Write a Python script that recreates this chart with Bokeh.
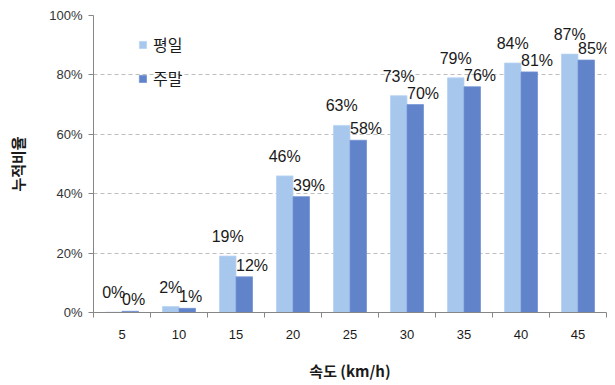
import numpy as np
from bokeh.plotting import figure
from bokeh.models import (ColumnDataSource, FixedTicker, PrintfTickFormatter, Range1d,
                          Legend, LegendItem)
from bokeh.core.properties import value
from bokeh.transform import dodge
from bokeh.embed import file_html
from bokeh.resources import INLINE

speeds = ["5", "10", "15", "20", "25", "30", "35", "40", "45"]
weekday = [0.1, 2.0, 19.0, 46.0, 63.0, 73.0, 79.0, 84.0, 87.0]
weekend = [0.4, 1.4, 12.0, 39.0, 58.0, 70.0, 76.0, 81.0, 85.0]
y_ticks = [0, 20, 40, 60, 80, 100]
series_names = ["평일", "주말"]
x_title = "속도 (km/h)"
y_title = "누적비율"

LIGHT = "#A7C7EC"
DARK = "#6083C9"
NUM_FONT = "Liberation Sans"
KR_FONT = "Noto Sans CJK KR"

n = len(speeds)
centers = np.arange(n) + 0.5
bw = 0.29

src = ColumnDataSource(dict(
    x=centers,
    wd=weekday,
    we=weekend,
    wd_lbl=[f"{round(v)}%" for v in weekday],
    we_lbl=[f"{round(v)}%" for v in weekend],
))

p = figure(width=615, height=385, output_backend="svg", toolbar_location=None,
           x_range=Range1d(0, n), y_range=Range1d(0, 100),
           min_border_left=93, min_border_right=9, min_border_top=15, min_border_bottom=73)
p.outline_line_color = None
p.background_fill_color = "white"
p.border_fill_color = "white"

r1 = p.vbar(x=dodge("x", -bw / 2), top="wd", width=bw, bottom=0, source=src,
            fill_color=LIGHT, line_color="#B9D4F2", line_width=0.8)
r2 = p.vbar(x=dodge("x", bw / 2), top="we", width=bw, bottom=0, source=src,
            fill_color=DARK, line_color="#7393D3", line_width=0.8)

# data labels
p.text(x=dodge("x", -bw / 2), y="wd", text="wd_lbl", source=src, text_align="center",
       text_baseline="bottom", y_offset=-11, text_font=value(NUM_FONT),
       text_font_size="16px", text_color="#1a1a1a")
p.text(x="x", y="we", text="we_lbl", source=src, text_align="left",
       text_baseline="bottom", y_offset=-3, text_font=value(NUM_FONT),
       text_font_size="16px", text_color="#1a1a1a")

# x axis
p.xaxis.ticker = FixedTicker(ticks=list(centers), minor_ticks=list(range(n + 1)))
p.xaxis.major_label_overrides = {float(c): s for c, s in zip(centers, speeds)}
p.xaxis.major_tick_line_color = None
p.xaxis.minor_tick_line_color = "#868686"
p.xaxis.minor_tick_out = 5
p.xaxis.minor_tick_in = 0
p.xaxis.axis_line_color = "#868686"
p.xaxis.major_label_text_font = NUM_FONT
p.xaxis.major_label_text_font_size = "13px"
p.xaxis.major_label_text_color = "#1a1a1a"
p.xaxis.major_label_standoff = 11
p.xaxis.axis_label = x_title
p.xaxis.axis_label_text_font = KR_FONT
p.xaxis.axis_label_text_font_size = "15px"
p.xaxis.axis_label_text_font_style = "bold"
p.xaxis.axis_label_text_color = "#1a1a1a"
p.xaxis.axis_label_standoff = 18

# y axis
p.yaxis.ticker = FixedTicker(ticks=y_ticks)
p.yaxis.formatter = PrintfTickFormatter(format="%d%%")
p.yaxis.minor_tick_line_color = None
p.yaxis.major_tick_line_color = "#868686"
p.yaxis.major_tick_out = 5
p.yaxis.major_tick_in = 0
p.yaxis.axis_line_color = "#868686"
p.yaxis.major_label_text_font = NUM_FONT
p.yaxis.major_label_text_font_size = "13px"
p.yaxis.major_label_text_color = "#333333"
p.yaxis.major_label_standoff = 6
p.yaxis.axis_label = y_title
p.yaxis.axis_label_text_font = KR_FONT
p.yaxis.axis_label_text_font_size = "15px"
p.yaxis.axis_label_text_font_style = "bold"
p.yaxis.axis_label_text_color = "#1a1a1a"
p.yaxis.axis_label_standoff = 18

p.xgrid.grid_line_color = None
p.ygrid.grid_line_color = "#BDBDBD"
p.ygrid.grid_line_dash = "4 3"
p.ygrid.grid_line_width = 1

legend = Legend(items=[LegendItem(label=series_names[0], renderers=[r1]),
                       LegendItem(label=series_names[1], renderers=[r2])],
                location=(45, 222), orientation="vertical")
legend.background_fill_alpha = 0
legend.border_line_color = None
legend.label_text_font = KR_FONT
legend.label_text_font_size = "16px"
legend.label_text_color = "#1a1a1a"
legend.glyph_width = 9
legend.glyph_height = 9
legend.label_height = 20
legend.spacing = 10
legend.padding = 0
legend.margin = 0
legend.label_standoff = 6
p.add_layout(legend)

open("out.html", "w").write(file_html(p, INLINE))
